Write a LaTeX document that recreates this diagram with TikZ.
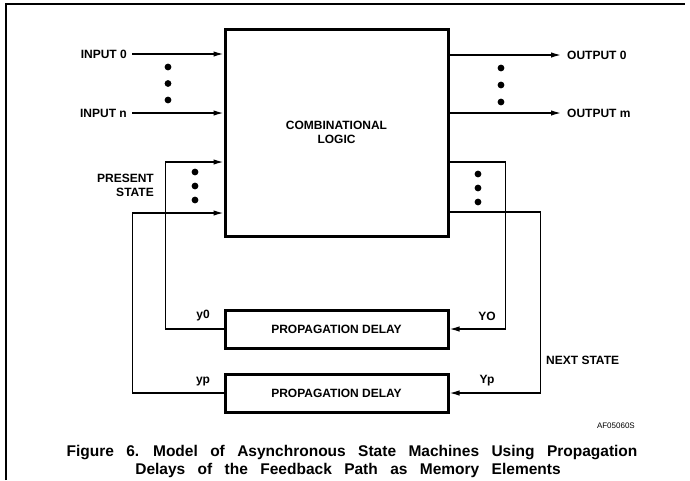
\documentclass[tikz,border=0pt]{standalone}
\usepackage{fontspec}
\setmainfont{Liberation Sans}
\usetikzlibrary{calc, positioning, arrows.meta}
\newcommand{\capfont}{\fontsize{15.5}{17}\selectfont\bfseries\spaceskip=0.8em\relax}

\begin{document}
\begin{tikzpicture}[x=1pt, y=-1pt,
        lbl/.style={font=\fontsize{12}{14}\selectfont\bfseries, inner sep=0pt},
        blockbox/.style={draw, line width=3pt, inner sep=0pt, minimum width=223pt,
                         font=\fontsize{12}{14}\selectfont\bfseries, align=center},
        capt/.style={font=\capfont, inner sep=0pt},
        wire/.style={line width=1.4pt},
        arr/.style={wire, -{Latex[length=10pt, width=5.5pt]}}]
    \useasboundingbox (0,0) rectangle (690,480);
    % frame
    \draw[line width=1.2pt] (6,480) -- (6,4) -- (685,4);
    % blocks
    \node[blockbox, minimum height=207pt] (logic) at (336.5,132.5) {COMBINATIONAL\\LOGIC};
    \node[blockbox, minimum height=38pt] (delay0) at (336.5,329) {PROPAGATION DELAY};
    \node[blockbox, minimum height=38pt] (delayp) at (336.5,393) {PROPAGATION DELAY};
    % inputs and outputs
    \node[lbl, anchor=east] (in0) at (127,54) {INPUT 0};
    \node[lbl, anchor=east] (inn) at (127,113) {INPUT n};
    \node[lbl, anchor=west] (out0) at (567,55) {OUTPUT 0};
    \node[lbl, anchor=west] (outm) at (567,113) {OUTPUT m};
    \draw[arr] ([xshift=5pt]in0.east) -- (in0 -| logic.west);
    \draw[arr] ([xshift=5pt]inn.east) -- (inn -| logic.west);
    \draw[arr] (out0 -| logic.east) -- ([xshift=-6pt]out0.west);
    \draw[arr] (outm -| logic.east) -- ([xshift=-6pt]outm.west);
    % feedback paths
    \draw[arr] (delay0.west) -- ++(-58,0) |- ($(logic.west)+(0,29.5)$);
    \draw[arr] (delayp.west) -- ++(-91,0) |- ($(logic.west)+(0,80.5)$);
    \draw[arr] ($(logic.east)+(0,29.5)$) -- ++(56,0) |- (delay0.east);
    \draw[arr] ($(logic.east)+(0,79.5)$) -- ++(91,0) |- (delayp.east);
    % labels
    \node[lbl, align=right, anchor=east] (present) at (154,185) {PRESENT\\STATE};
    \node[lbl, anchor=west] (next) at (546,360) {NEXT STATE};
    \node[lbl] (y0) at (203,316) {y0};
    \node[lbl] (Y0) at (487,316) {YO};
    \node[lbl] (yp) at (203,381) {yp};
    \node[lbl] (Yp) at (487,381) {Yp};
    % dots
    \foreach \x/\y/\s in {168/67/16.5, 501/68/17, 195/172/14, 478/174/14} {
        \foreach \k in {0,1,2}
            \fill (\x, \y+\k*\s) circle (3.4pt);
    }
    % caption
    \node[font=\fontsize{8}{9}\selectfont, anchor=east, inner sep=0pt] (code) at (635,426) {AF05060S};
    \node[capt] (cap1) at (352,453) {Figure 6. Model of Asynchronous State Machines Using Propagation};
    \node[capt] (cap2) at (348,470) {Delays of the Feedback Path as Memory Elements};
\end{tikzpicture}
\end{document}
